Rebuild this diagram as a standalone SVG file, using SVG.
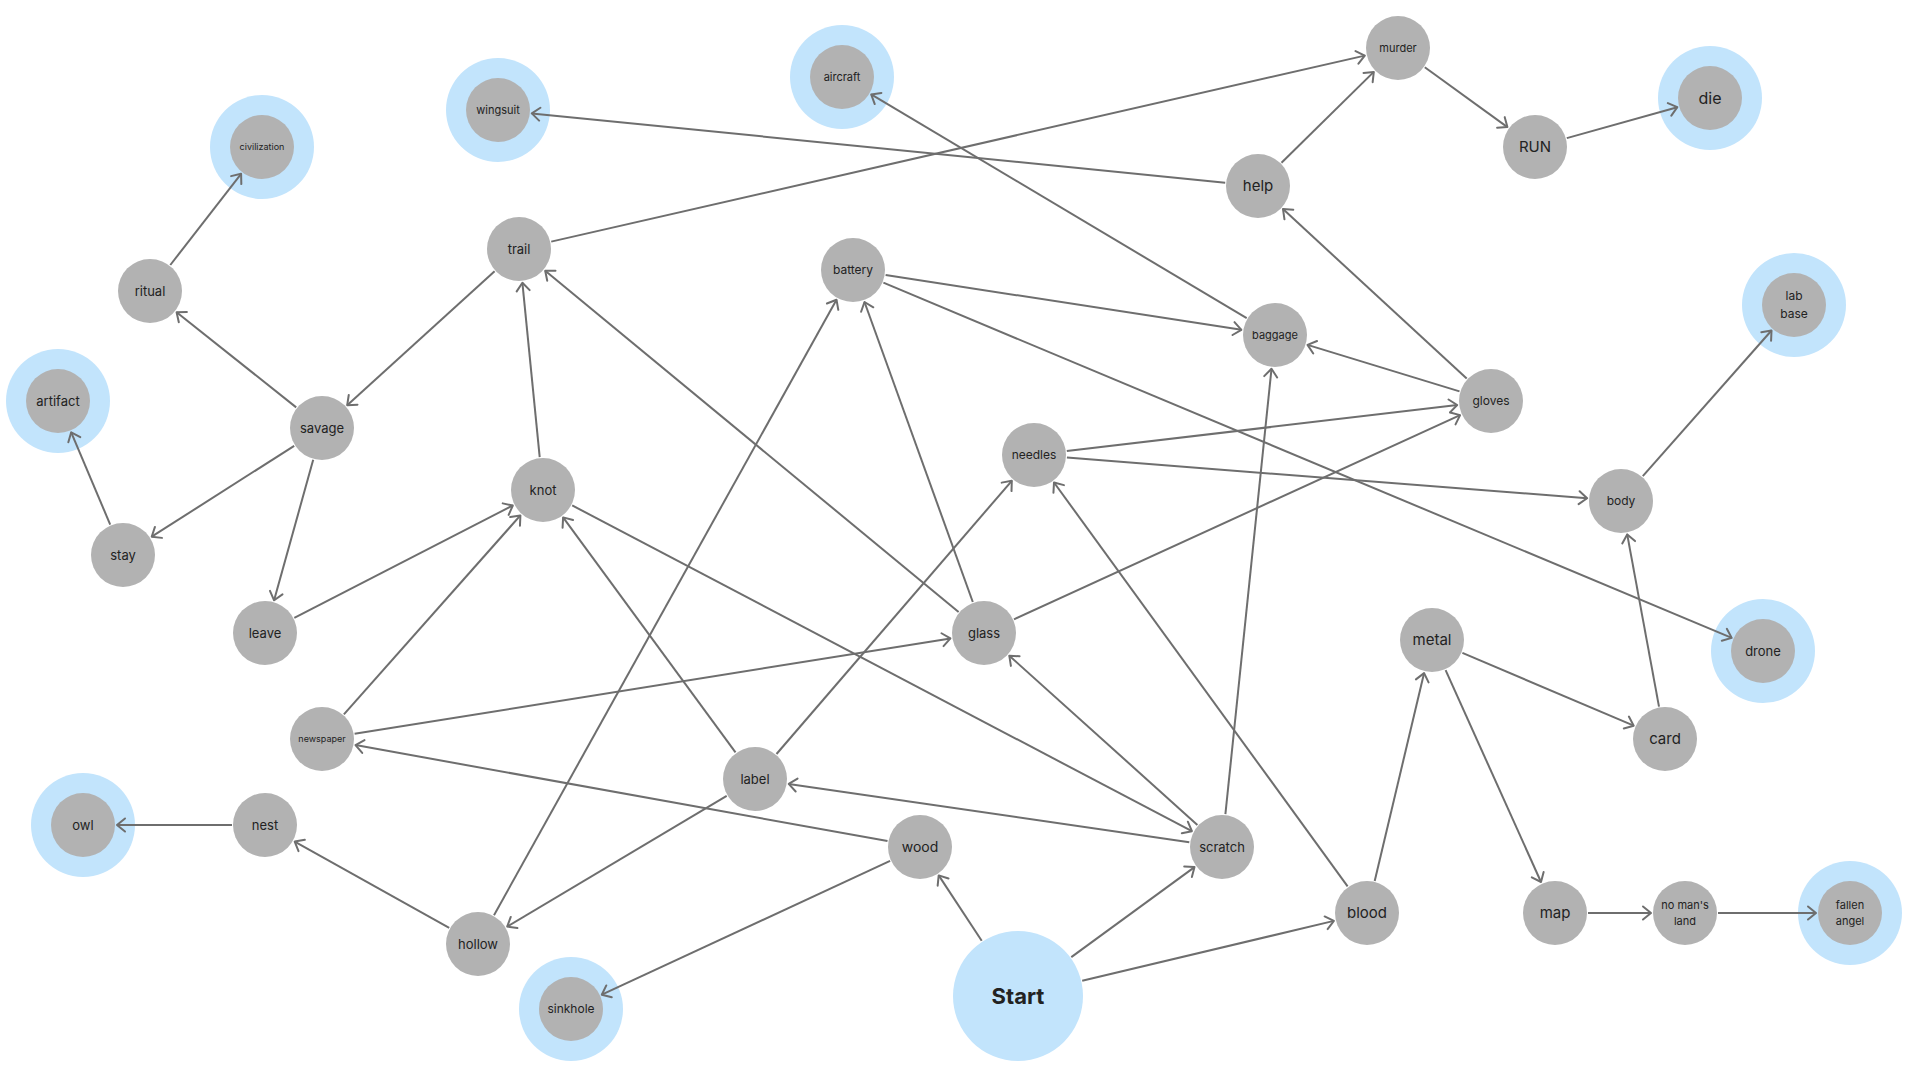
<svg xmlns="http://www.w3.org/2000/svg" width="1920" height="1080" viewBox="0 0 1920 1080">
<defs>
<style>
.ring{fill:#c2e4fc}
.node{fill:#b2b2b2}
.start{fill:#c2e4fc}
.lbl{font-family:Inter,"Liberation Sans",sans-serif;fill:#222;text-anchor:middle}
.edge{stroke:#6e6e6e;stroke-width:2;fill:none;marker-end:url(#arr)}
</style>
<marker id="arr" viewBox="-10 -8 12 16" refX="0" refY="0" markerWidth="12" markerHeight="16" markerUnits="userSpaceOnUse" orient="auto">
<path d="M-8,-6.5 L0,0 L-8,6.5" fill="none" stroke="#6e6e6e" stroke-width="2" stroke-linecap="round" stroke-linejoin="round"/>
</marker>
</defs>
<rect width="1920" height="1080" fill="#ffffff"/>
<g id="nodes">
<g id="n-civilization"><circle class="ring" cx="262" cy="147" r="52"/><circle class="node" cx="262" cy="147" r="32"/><text class="lbl" x="262" y="147" dy="0.35em" font-size="9">civilization</text></g>
<g id="n-wingsuit"><circle class="ring" cx="498" cy="110" r="52"/><circle class="node" cx="498" cy="110" r="32"/><text class="lbl" x="498" y="110" dy="0.35em" font-size="11">wingsuit</text></g>
<g id="n-aircraft"><circle class="ring" cx="842" cy="77" r="52"/><circle class="node" cx="842" cy="77" r="32"/><text class="lbl" x="842" y="77" dy="0.35em" font-size="11">aircraft</text></g>
<g id="n-murder"><circle class="node" cx="1398" cy="48" r="32"/><text class="lbl" x="1398" y="48" dy="0.35em" font-size="11">murder</text></g>
<g id="n-die"><circle class="ring" cx="1710" cy="98" r="52"/><circle class="node" cx="1710" cy="98" r="32"/><text class="lbl" x="1710" y="98" dy="0.35em" font-size="16">die</text></g>
<g id="n-run"><circle class="node" cx="1535" cy="147" r="32"/><text class="lbl" x="1535" y="147" dy="0.35em" font-size="15">RUN</text></g>
<g id="n-help"><circle class="node" cx="1258" cy="186" r="32"/><text class="lbl" x="1258" y="186" dy="0.35em" font-size="15">help</text></g>
<g id="n-ritual"><circle class="node" cx="150" cy="291" r="32"/><text class="lbl" x="150" y="291" dy="0.35em" font-size="13">ritual</text></g>
<g id="n-trail"><circle class="node" cx="519" cy="249" r="32"/><text class="lbl" x="519" y="249" dy="0.35em" font-size="13">trail</text></g>
<g id="n-battery"><circle class="node" cx="853" cy="270" r="32"/><text class="lbl" x="853" y="270" dy="0.35em" font-size="12">battery</text></g>
<g id="n-baggage"><circle class="node" cx="1275" cy="335" r="32"/><text class="lbl" x="1275" y="335" dy="0.35em" font-size="11">baggage</text></g>
<g id="n-labbase"><circle class="ring" cx="1794" cy="305" r="52"/><circle class="node" cx="1794" cy="305" r="32"/><text class="lbl" x="1794" y="296" dy="0.35em" font-size="12">lab</text><text class="lbl" x="1794" y="314" dy="0.35em" font-size="12">base</text></g>
<g id="n-artifact"><circle class="ring" cx="58" cy="401" r="52"/><circle class="node" cx="58" cy="401" r="32"/><text class="lbl" x="58" y="401" dy="0.35em" font-size="13">artifact</text></g>
<g id="n-savage"><circle class="node" cx="322" cy="428" r="32"/><text class="lbl" x="322" y="428" dy="0.35em" font-size="13">savage</text></g>
<g id="n-gloves"><circle class="node" cx="1491" cy="401" r="32"/><text class="lbl" x="1491" y="401" dy="0.35em" font-size="12">gloves</text></g>
<g id="n-needles"><circle class="node" cx="1034" cy="455" r="32"/><text class="lbl" x="1034" y="455" dy="0.35em" font-size="12">needles</text></g>
<g id="n-knot"><circle class="node" cx="543" cy="490" r="32"/><text class="lbl" x="543" y="490" dy="0.35em" font-size="13">knot</text></g>
<g id="n-body"><circle class="node" cx="1621" cy="501" r="32"/><text class="lbl" x="1621" y="501" dy="0.35em" font-size="12">body</text></g>
<g id="n-stay"><circle class="node" cx="123" cy="555" r="32"/><text class="lbl" x="123" y="555" dy="0.35em" font-size="13">stay</text></g>
<g id="n-leave"><circle class="node" cx="265" cy="633" r="32"/><text class="lbl" x="265" y="633" dy="0.35em" font-size="13">leave</text></g>
<g id="n-glass"><circle class="node" cx="984" cy="633" r="32"/><text class="lbl" x="984" y="633" dy="0.35em" font-size="13">glass</text></g>
<g id="n-metal"><circle class="node" cx="1432" cy="640" r="32"/><text class="lbl" x="1432" y="640" dy="0.35em" font-size="15">metal</text></g>
<g id="n-drone"><circle class="ring" cx="1763" cy="651" r="52"/><circle class="node" cx="1763" cy="651" r="32"/><text class="lbl" x="1763" y="651" dy="0.35em" font-size="13">drone</text></g>
<g id="n-newspaper"><circle class="node" cx="322" cy="739" r="32"/><text class="lbl" x="322" y="739" dy="0.35em" font-size="9">newspaper</text></g>
<g id="n-label"><circle class="node" cx="755" cy="779" r="32"/><text class="lbl" x="755" y="779" dy="0.35em" font-size="13">label</text></g>
<g id="n-card"><circle class="node" cx="1665" cy="739" r="32"/><text class="lbl" x="1665" y="739" dy="0.35em" font-size="15">card</text></g>
<g id="n-owl"><circle class="ring" cx="83" cy="825" r="52"/><circle class="node" cx="83" cy="825" r="32"/><text class="lbl" x="83" y="825" dy="0.35em" font-size="13">owl</text></g>
<g id="n-nest"><circle class="node" cx="265" cy="825" r="32"/><text class="lbl" x="265" y="825" dy="0.35em" font-size="13">nest</text></g>
<g id="n-wood"><circle class="node" cx="920" cy="847" r="32"/><text class="lbl" x="920" y="847" dy="0.35em" font-size="14">wood</text></g>
<g id="n-scratch"><circle class="node" cx="1222" cy="847" r="32"/><text class="lbl" x="1222" y="847" dy="0.35em" font-size="13">scratch</text></g>
<g id="n-blood"><circle class="node" cx="1367" cy="913" r="32"/><text class="lbl" x="1367" y="913" dy="0.35em" font-size="15">blood</text></g>
<g id="n-map"><circle class="node" cx="1555" cy="913" r="32"/><text class="lbl" x="1555" y="913" dy="0.35em" font-size="15">map</text></g>
<g id="n-nomansland"><circle class="node" cx="1685" cy="913" r="32"/><text class="lbl" x="1685" y="905" dy="0.35em" font-size="11">no man's</text><text class="lbl" x="1685" y="921" dy="0.35em" font-size="11">land</text></g>
<g id="n-fallenangel"><circle class="ring" cx="1850" cy="913" r="52"/><circle class="node" cx="1850" cy="913" r="32"/><text class="lbl" x="1850" y="905" dy="0.35em" font-size="11">fallen</text><text class="lbl" x="1850" y="921" dy="0.35em" font-size="11">angel</text></g>
<g id="n-hollow"><circle class="node" cx="478" cy="944" r="32"/><text class="lbl" x="478" y="944" dy="0.35em" font-size="13">hollow</text></g>
<g id="n-sinkhole"><circle class="ring" cx="571" cy="1009" r="52"/><circle class="node" cx="571" cy="1009" r="32"/><text class="lbl" x="571" y="1009" dy="0.35em" font-size="12">sinkhole</text></g>
<g id="n-start"><circle class="start" cx="1018" cy="996" r="65"/><text class="lbl" x="1018" y="996" dy="0.35em" font-size="22" font-weight="700">Start</text></g>
</g>
<g id="connectors">
<line class="edge" x1="170.3" y1="265.0" x2="241.1" y2="173.8"/>
<line class="edge" x1="296.2" y1="407.4" x2="176.6" y2="312.2"/>
<line class="edge" x1="494.6" y1="271.2" x2="347.2" y2="405.2"/>
<line class="edge" x1="551.2" y1="241.6" x2="1364.8" y2="55.6"/>
<line class="edge" x1="1225.2" y1="182.7" x2="531.8" y2="113.4"/>
<line class="edge" x1="1246.7" y1="318.1" x2="871.2" y2="94.4"/>
<line class="edge" x1="1281.5" y1="162.8" x2="1373.8" y2="71.9"/>
<line class="edge" x1="1424.8" y1="67.3" x2="1507.4" y2="127.1"/>
<line class="edge" x1="1566.8" y1="138.1" x2="1677.3" y2="107.2"/>
<line class="edge" x1="1466.7" y1="378.6" x2="1283.0" y2="209.1"/>
<line class="edge" x1="885.6" y1="275.0" x2="1241.4" y2="329.8"/>
<line class="edge" x1="1459.5" y1="391.4" x2="1307.5" y2="344.9"/>
<line class="edge" x1="883.4" y1="282.7" x2="1731.7" y2="637.9"/>
<line class="edge" x1="1066.8" y1="451.1" x2="1457.2" y2="405.0"/>
<line class="edge" x1="1014.0" y1="619.3" x2="1460.1" y2="415.1"/>
<line class="edge" x1="1066.9" y1="457.6" x2="1587.1" y2="498.3"/>
<line class="edge" x1="1642.8" y1="476.2" x2="1771.5" y2="330.5"/>
<line class="edge" x1="1659.0" y1="706.6" x2="1627.2" y2="534.4"/>
<line class="edge" x1="1462.4" y1="652.9" x2="1633.7" y2="725.7"/>
<line class="edge" x1="1445.6" y1="670.1" x2="1541.0" y2="882.0"/>
<line class="edge" x1="1588" y1="913" x2="1651" y2="913"/>
<line class="edge" x1="1718" y1="913" x2="1816" y2="913"/>
<line class="edge" x1="1374.7" y1="880.9" x2="1424.1" y2="673.1"/>
<line class="edge" x1="1347.6" y1="886.3" x2="1054.0" y2="482.5"/>
<line class="edge" x1="1082.2" y1="980.8" x2="1333.9" y2="920.9"/>
<line class="edge" x1="1071.3" y1="957.1" x2="1194.5" y2="867.1"/>
<line class="edge" x1="981.7" y1="940.8" x2="938.7" y2="875.4"/>
<line class="edge" x1="1225.4" y1="814.2" x2="1271.5" y2="368.8"/>
<line class="edge" x1="1197.4" y1="824.9" x2="1009.3" y2="655.7"/>
<line class="edge" x1="1189.3" y1="842.2" x2="788.7" y2="783.9"/>
<line class="edge" x1="572.2" y1="505.4" x2="1191.9" y2="831.2"/>
<line class="edge" x1="958.6" y1="612.0" x2="545.2" y2="270.7"/>
<line class="edge" x1="972.8" y1="602.0" x2="864.5" y2="302.0"/>
<line class="edge" x1="539.7" y1="457.2" x2="522.4" y2="282.8"/>
<line class="edge" x1="294.2" y1="445.8" x2="151.7" y2="536.7"/>
<line class="edge" x1="313.2" y1="459.8" x2="274.1" y2="600.3"/>
<line class="edge" x1="110.2" y1="524.6" x2="71.2" y2="432.3"/>
<line class="edge" x1="294.3" y1="617.9" x2="512.8" y2="505.5"/>
<line class="edge" x1="343.9" y1="714.3" x2="520.4" y2="515.4"/>
<line class="edge" x1="354.6" y1="733.8" x2="950.4" y2="638.4"/>
<line class="edge" x1="735.5" y1="752.4" x2="563.1" y2="517.4"/>
<line class="edge" x1="776.5" y1="754.0" x2="1011.8" y2="480.8"/>
<line class="edge" x1="726.7" y1="795.9" x2="507.2" y2="926.6"/>
<line class="edge" x1="494.0" y1="915.2" x2="836.5" y2="299.7"/>
<line class="edge" x1="449.2" y1="927.9" x2="294.7" y2="841.6"/>
<line class="edge" x1="232" y1="825" x2="117" y2="825"/>
<line class="edge" x1="887.5" y1="841.1" x2="355.5" y2="745.1"/>
<line class="edge" x1="890.1" y1="860.9" x2="601.8" y2="994.7"/>
</g>
</svg>
